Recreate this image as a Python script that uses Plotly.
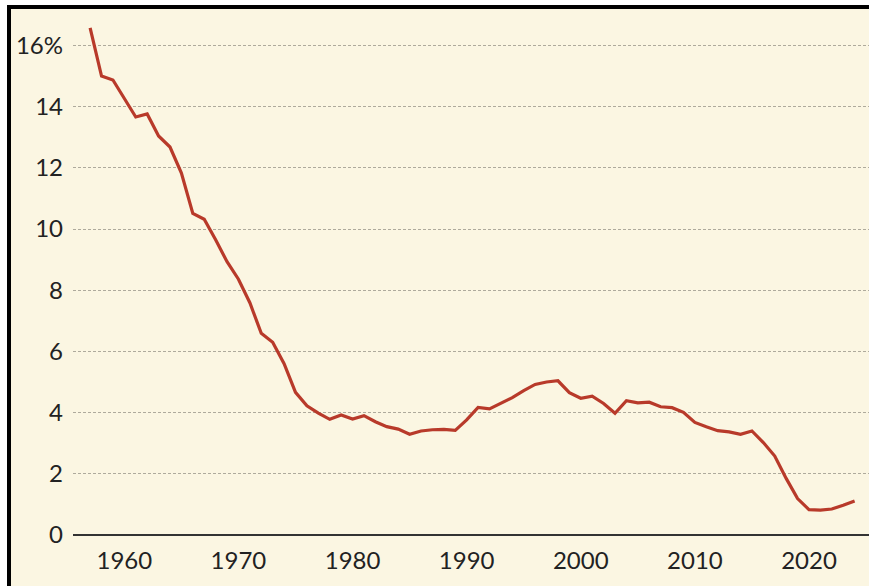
import plotly.graph_objects as go

years = list(range(1957, 2025))
values = [
    16.57, 15.00, 14.87, 14.25, 13.66, 13.76, 13.04, 12.68, 11.83, 10.51,
    10.32, 9.65, 8.93, 8.36, 7.59, 6.59, 6.30, 5.60, 4.66, 4.22,
    3.98, 3.78, 3.92, 3.79, 3.90, 3.70, 3.54, 3.46, 3.29, 3.40,
    3.44, 3.45, 3.42, 3.76, 4.17, 4.12, 4.30, 4.49, 4.72, 4.92,
    5.00, 5.04, 4.65, 4.47, 4.54, 4.30, 3.98, 4.39, 4.32, 4.34,
    4.19, 4.16, 4.01, 3.68, 3.54, 3.41, 3.37, 3.29, 3.40, 3.02,
    2.58, 1.85, 1.19, 0.83, 0.81, 0.85, 0.97, 1.11,
]
x_ticks = [1960, 1970, 1980, 1990, 2000, 2010, 2020]
y_ticks = [0, 2, 4, 6, 8, 10, 12, 14, 16]
y_tick_text = ["0", "2", "4", "6", "8", "10", "12", "14", "16%"]

W, H = 869, 586
ML, MR, MT, MB = 73, 0, 10, 51
PW, PH = W - ML - MR, H - MT - MB

def px_x(p):
    return (p - ML) / PW

def px_y(p):
    return (H - MB - p) / PH

cream = "#fbf6e2"
fig = go.Figure()
fig.add_trace(go.Scatter(
    x=years, y=values, mode="lines",
    line=dict(color="#b83a2a", width=3.2),
    showlegend=False, hoverinfo="skip",
))

shapes = [
    dict(type="rect", xref="paper", yref="paper", layer="below",
         x0=px_x(9), x1=px_x(W + 5), y0=px_y(H + 5), y1=px_y(7),
         fillcolor=cream, line=dict(width=0)),
    dict(type="line", xref="paper", yref="paper", layer="above",
         x0=px_x(7), x1=px_x(W + 5), y0=px_y(7), y1=px_y(7),
         line=dict(color="black", width=4)),
    dict(type="line", xref="paper", yref="paper", layer="above",
         x0=px_x(9), x1=px_x(9), y0=px_y(5), y1=px_y(H + 5),
         line=dict(color="black", width=4)),
]

font = dict(family="Lato, 'Open Sans', sans-serif", size=24, color="#222222")
y_top = (H - MB - MT) / 30.6

fig.update_layout(
    width=W, height=H,
    margin=dict(l=ML, r=MR, t=MT, b=MB, pad=0),
    paper_bgcolor="white",
    plot_bgcolor="rgba(0,0,0,0)",
    shapes=shapes,
    font=font,
    xaxis=dict(
        range=[1955.5, 2025.26],
        tickvals=x_ticks, ticktext=[str(v) for v in x_ticks],
        showgrid=False, zeroline=False, showline=False,
        ticks="", tickfont=font, ticklabelstandoff=9, fixedrange=True,
    ),
    yaxis=dict(
        range=[0, y_top],
        tickvals=y_ticks, ticktext=y_tick_text,
        showgrid=True, gridcolor="#aeaa9c", griddash="3px,2px", gridwidth=1.3,
        zeroline=True, zerolinecolor="#333333", zerolinewidth=2,
        showline=False, ticks="", tickfont=font, ticklabelstandoff=9,
        fixedrange=True,
    ),
)

fig.write_html(
    "out.html",
    config={"displayModeBar": False},
    post_script="document.body.style.margin='0';document.body.style.overflow='hidden';",
)
